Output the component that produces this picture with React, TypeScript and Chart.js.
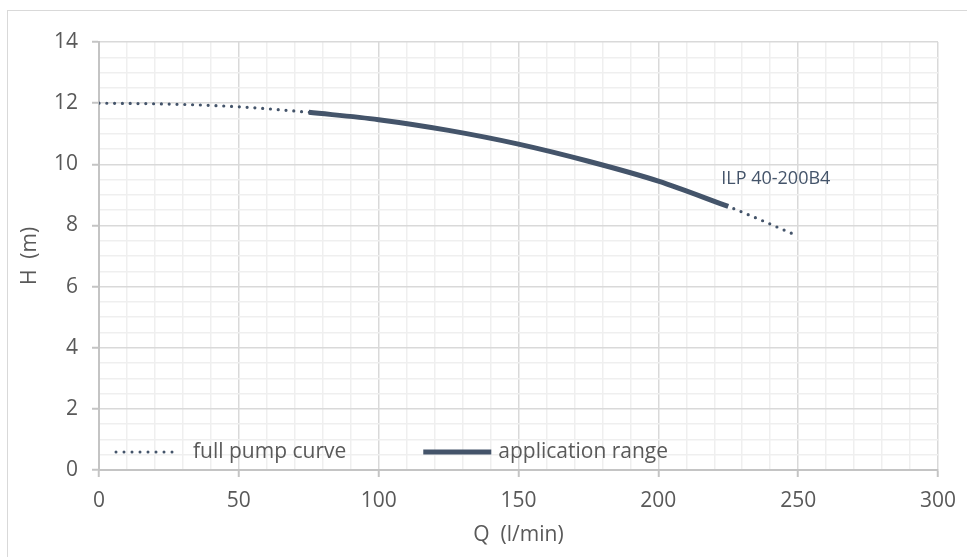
import React, { useEffect, useRef } from "react";
import { Chart, registerables } from "chart.js";

Chart.register(...registerables);

// ---- data ----
const flowQ = [0, 25, 50, 75, 100, 125, 150, 175, 200, 225, 250];
const headH = [12.0, 11.97, 11.88, 11.7, 11.46, 11.11, 10.66, 10.1, 9.45, 8.62, 7.65];
const appQ = [75, 100, 125, 150, 175, 200, 225];
const appH = [11.7, 11.46, 11.11, 10.66, 10.1, 9.45, 8.62];
const seriesLabels = ["full pump curve", "application range"];
const curveLabel = "ILP 40-200B4";
const curveLabelAt = [222.5, 9.52];
const xTitle = "Q  (l/min)";
const yTitle = "H  (m)";
const xMajorStep = 50;
const yMajorStep = 2;

const LINE = "#44546A";
const TEXT = "#595959";
const FONT = "'Open Sans', 'Noto Sans', sans-serif";

const overlayPlugin = {
  id: "overlay",
  afterDatasetsDraw(chart: any) {
    const { ctx, chartArea, scales } = chart;
    ctx.save();
    // annotation
    ctx.font = `18px ${FONT}`;
    ctx.fillStyle = LINE;
    ctx.textAlign = "left";
    ctx.textBaseline = "middle";
    ctx.fillText(
      curveLabel,
      scales.x.getPixelForValue(curveLabelAt[0]),
      scales.y.getPixelForValue(curveLabelAt[1])
    );
    // legend
    const ly = chartArea.bottom - 18;
    ctx.font = `21px ${FONT}`;
    ctx.fillStyle = TEXT;
    let x = chartArea.left + 16;
    // item 1 dotted
    ctx.strokeStyle = LINE;
    ctx.lineWidth = 3;
    ctx.lineCap = "round";
    ctx.setLineDash([0, 8]);
    ctx.beginPath();
    ctx.moveTo(x + 1, ly);
    ctx.lineTo(x + 65, ly);
    ctx.stroke();
    ctx.setLineDash([]);
    x += 78;
    ctx.fillText(seriesLabels[0], x, ly);
    x += ctx.measureText(seriesLabels[0]).width + 77;
    // item 2 solid
    ctx.lineWidth = 5;
    ctx.lineCap = "butt";
    ctx.beginPath();
    ctx.moveTo(x, ly);
    ctx.lineTo(x + 68, ly);
    ctx.stroke();
    x += 75;
    ctx.fillText(seriesLabels[1], x, ly);
    ctx.restore();
  },
};

export default function App() {
  const ref = useRef<HTMLCanvasElement>(null);
  useEffect(() => {
    if (!ref.current) return;
    const chart = new Chart(ref.current, {
      type: "line",
      data: {
        datasets: [
          {
            label: seriesLabels[1],
            data: appQ.map((q, i) => ({ x: q, y: appH[i] })),
            borderColor: LINE,
            borderWidth: 5,
            cubicInterpolationMode: "monotone",
            pointRadius: 0,
            fill: false,
            order: 0,
          },
          {
            label: seriesLabels[0],
            data: flowQ.map((q, i) => ({ x: q, y: headH[i] })),
            borderColor: LINE,
            borderWidth: 3.2,
            borderDash: [0, 7.8],
            borderCapStyle: "round",
            cubicInterpolationMode: "monotone",
            pointRadius: 0,
            fill: false,
            order: 1,
          },
        ],
      },
      options: {
        animation: false,
        responsive: true,
        maintainAspectRatio: false,
        layout: { padding: { top: 42, right: 28, left: 0, bottom: 0 } },
        plugins: { legend: { display: false }, tooltip: { enabled: false } },
        scales: {
          x: {
            type: "linear",
            min: 0,
            max: 300,
            afterFit(s: any) {
              s.height = 87;
            },
            ticks: {
              stepSize: 10,
              autoSkip: false,
              maxRotation: 0,
              padding: 11,
              color: TEXT,
              font: { family: FONT, size: 21 },
              callback: (v: any) => (v % xMajorStep === 0 ? String(v) : ""),
            },
            grid: {
              color: (c: any) => (c.tick && c.tick.value % xMajorStep === 0 ? "#d9d9d9" : "#efefef"),
              lineWidth: 1.5,
              tickLength: 7,
              tickWidth: 2,
              tickColor: (c: any) => (c.tick && c.tick.value % xMajorStep === 0 ? "#c4c4c4" : "rgba(0,0,0,0)"),
            },
            border: { color: "#c4c4c4", width: 2 },
            title: {
              display: true,
              text: xTitle,
              color: TEXT,
              font: { family: FONT, size: 21 },
              padding: { top: 0, bottom: 9 },
            },
          },
          y: {
            type: "linear",
            min: 0,
            max: 14,
            afterFit(s: any) {
              s.width = 99;
            },
            ticks: {
              stepSize: 0.5,
              autoSkip: false,
              padding: 14,
              color: TEXT,
              font: { family: FONT, size: 21 },
              callback: (v: any) => (v % yMajorStep === 0 ? String(v) : ""),
            },
            grid: {
              color: (c: any) => (c.tick && c.tick.value % yMajorStep === 0 ? "#d9d9d9" : "#efefef"),
              lineWidth: 1.5,
              tickLength: 7,
              tickWidth: 2,
              tickColor: (c: any) => (c.tick && c.tick.value % yMajorStep === 0 ? "#c4c4c4" : "rgba(0,0,0,0)"),
            },
            border: { color: "#c4c4c4", width: 2 },
            title: {
              display: true,
              text: yTitle,
              color: TEXT,
              font: { family: FONT, size: 21 },
              padding: { top: 17, bottom: 0 },
            },
          },
        },
      },
      plugins: [overlayPlugin],
    } as any);
    return () => chart.destroy();
  }, []);

  return (
    <div
      style={{
        position: "fixed",
        left: 0,
        top: 0,
        width: 967,
        height: 557,
        overflow: "hidden",
        background: "#fff",
      }}
    >
      <div
        style={{
          position: "absolute",
          left: 7,
          top: 10,
          width: 990,
          height: 600,
          border: "1.5px solid #d9d9d9",
          boxSizing: "border-box",
        }}
      />
      <div style={{ position: "absolute", left: 0, top: 0, width: 967, height: 557 }}>
        <canvas ref={ref} />
      </div>
    </div>
  );
}
